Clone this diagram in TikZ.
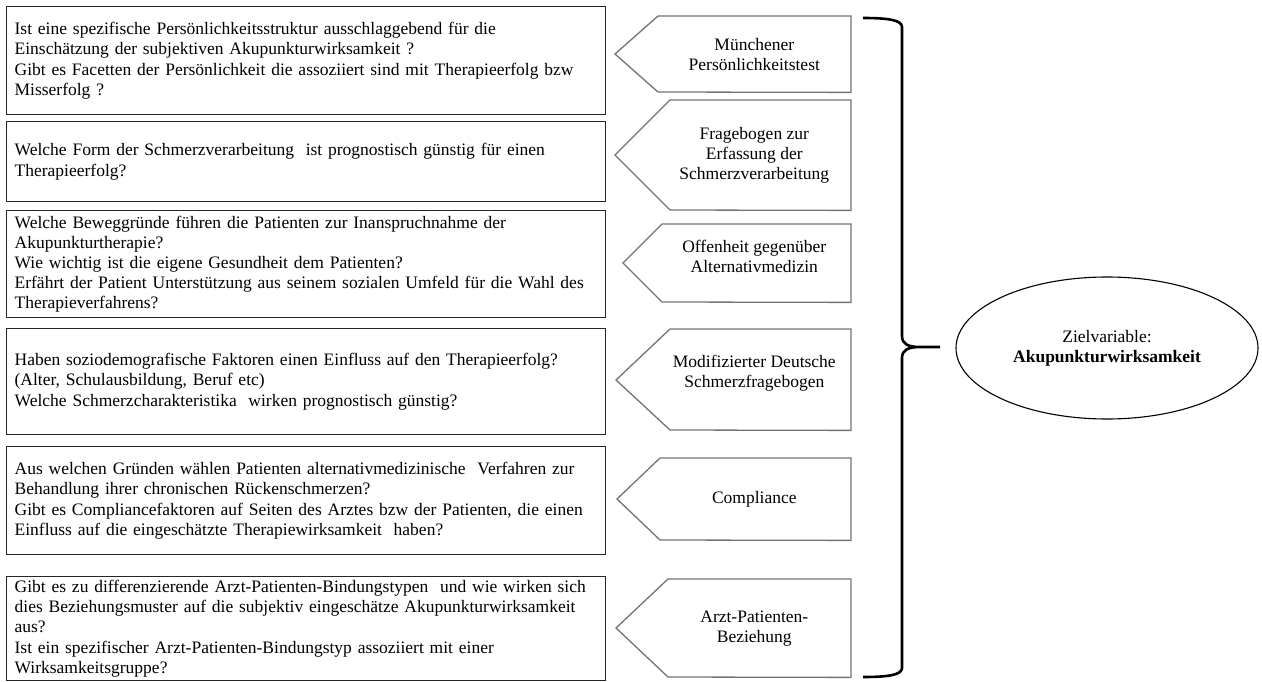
\documentclass[tikz,border=0pt]{standalone}
\usepackage{fontspec}
\setmainfont{Liberation Serif}
\usetikzlibrary{calc,shapes.geometric}
\begin{document}
\begin{tikzpicture}[x=1pt,y=-1pt,
  txt/.style={font=\fontsize{17.5}{20.2}\selectfont},
  qbox/.style={txt, draw=black!85, line width=1.3pt, inner xsep=8pt, inner ysep=0pt,
    text width=583pt, minimum width=599pt, align=left, anchor=north west},
  pbody/.style={txt, inner sep=0pt, align=center, minimum width=193pt, anchor=north east},
  pent/.style={draw=black!55, line width=1.3pt, line join=miter},
  goalshape/.style={txt, draw=black, line width=1.1pt, ellipse, inner sep=0pt,
    minimum width=302pt, minimum height=142pt, align=center},
  bracket/.style={draw=black, line width=2.6pt, line join=round}
]
\useasboundingbox (0,0) rectangle (1262,682);

% question boxes
\node[qbox, minimum height=108pt] (q1) at (6,6) {Ist eine spezifische Persönlichkeitsstruktur ausschlaggebend für die\\
Einschätzung der subjektiven Akupunkturwirksamkeit ?\\
Gibt es Facetten der Persönlichkeit die assoziiert sind mit Therapieerfolg bzw\\
Misserfolg ?};
\node[qbox, minimum height=80pt] (q2) at (6,121) {Welche Form der Schmerzverarbeitung\ \ ist prognostisch günstig für einen\\
Therapieerfolg?\\[-6pt]};
\node[qbox, minimum height=107pt] (q3) at (6,210) {Welche Beweggründe führen die Patienten zur Inanspruchnahme der\\
Akupunkturtherapie?\\
Wie wichtig ist die eigene Gesundheit dem Patienten?\\
Erfährt der Patient Unterstützung aus seinem sozialen Umfeld für die Wahl des\\
Therapieverfahrens?};
\node[qbox, minimum height=106pt] (q4) at (6,328) {Haben soziodemografische Faktoren einen Einfluss auf den Therapieerfolg?\\
(Alter, Schulausbildung, Beruf etc)\\
Welche Schmerzcharakteristika\ \ wirken prognostisch günstig?};
\node[qbox, minimum height=108pt] (q5) at (6,446) {Aus welchen Gründen wählen Patienten alternativmedizinische\ \ Verfahren zur\\
Behandlung ihrer chronischen Rückenschmerzen?\\
Gibt es Compliancefaktoren auf Seiten des Arztes bzw der Patienten, die einen\\
Einfluss auf die eingeschätzte Therapiewirksamkeit\ \ haben?};
\node[qbox, minimum height=104pt] (q6) at (6,576) {Gibt es zu differenzierende Arzt-Patienten-Bindungstypen\ \ und wie wirken sich\\
dies Beziehungsmuster auf die subjektiv eingeschätze Akupunkturwirksamkeit\\
aus?\\
Ist ein spezifischer Arzt-Patienten-Bindungstyp assoziiert mit einer\\
Wirksamkeitsgruppe?};

% instrument arrows (pentagons pointing left)
\node[pbody, minimum height=76pt]  (m1) at (851,16)  {Münchener\\Persönlichkeitstest};
\node[pbody, minimum height=110pt] (m2) at (851,100) {Fragebogen zur\\Erfassung der\\Schmerzverarbeitung};
\node[pbody, minimum height=78pt]  (m3) at (851,224) {Offenheit gegenüber\\Alternativmedizin\\[-6pt]};
\node[pbody, minimum height=101pt] (m4) at (851,329) {Modifizierter Deutsche\\Schmerzfragebogen\\[-4pt]};
\node[pbody, minimum height=82pt]  (m5) at (851,458) {Compliance};
\node[pbody, minimum height=98pt]  (m6) at (851,579) {Arzt-Patienten-\\Beziehung};

\draw[pent] (658,16)  -- (m1.north east) -- (m1.south east) -- (658,92)  -- (615,54)  -- cycle;
\draw[pent] (670,100) -- (m2.north east) -- (m2.south east) -- (670,210) -- (615,155) -- cycle;
\draw[pent] (662,224) -- (m3.north east) -- (m3.south east) -- (662,302) -- (623,263) -- cycle;
\draw[pent] (670,329) -- (m4.north east) -- (m4.south east) -- (670,430) -- (616,380) -- cycle;
\draw[pent] (660,458) -- (m5.north east) -- (m5.south east) -- (660,540) -- (617,499) -- cycle;
\draw[pent] (668,579) -- (m6.north east) -- (m6.south east) -- (668,677) -- (616,628) -- cycle;

% target variable
\node[goalshape] (goal) at (1107,348) {Zielvariable:\\\textbf{Akupunkturwirksamkeit}};

% curly bracket gathering all instruments
\coordinate (btop) at (863,18);
\coordinate (bbot) at (863,677);
\coordinate (btip) at (940,347);
\draw[bracket] (btop) .. controls (888,18) and (902,20) .. (902,27)
  -- (902,336) .. controls (902,344) and (908,347) .. (920,347) -- (btip)
  (920,347) .. controls (908,347) and (902,350) .. (902,358)
  -- (902,668) .. controls (902,675) and (888,677) .. (bbot);
\end{tikzpicture}
\end{document}
